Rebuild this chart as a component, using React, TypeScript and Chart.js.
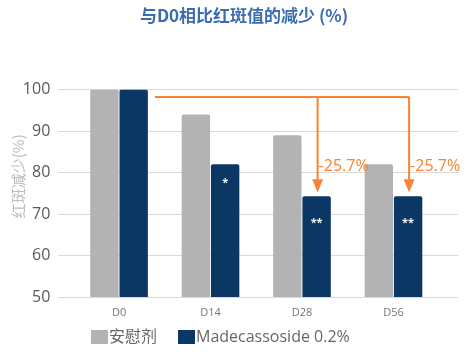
import React, { useEffect, useRef } from "react";
import { Chart, registerables } from "chart.js";

Chart.register(...registerables);

const categories = ["D0", "D14", "D28", "D56"];
const placeboValues = [100, 94, 89, 82];
const madecassosideValues = [100, 82, 74.3, 74.3];
const starLabels = ["", "*", "**", "**"];
const reductionLabels = ["", "", "-25.7%", "-25.7%"];
const seriesNames = ["安慰剂", "Madecassoside 0.2%"];
const yTicks = [50, 60, 70, 80, 90, 100];
const chartTitle = "与D0相比红斑值的减少 (%)";
const yAxisTitle = "红斑减少(%)";

const GRAY = "#b3b3b3";
const NAVY = "#0b3764";
const ORANGE = "#f98330";
const FONT = "'Open Sans', 'Noto Sans CJK SC', sans-serif";
const CJK = "'Noto Sans CJK SC', 'Open Sans', sans-serif";

const overlay = {
  id: "overlay",
  afterDatasetsDraw(chart: any) {
    const ctx = chart.ctx;
    const y = chart.scales.y;
    const meta1 = chart.getDatasetMeta(1);
    ctx.save();
    // stars
    ctx.fillStyle = "#eef4fb";
    ctx.font = `bold 11px ${FONT}`;
    ctx.textAlign = "center";
    ctx.textBaseline = "middle";
    starLabels.forEach((s, i) => {
      if (!s) return;
      const bar = meta1.data[i];
      const off = s.length > 1 ? 27 : 19;
      ctx.fillText(s, bar.x, bar.y + off);
    });
    // orange arrows
    const start = meta1.data[0];
    const lineY = y.getPixelForValue(98.2);
    const xs: number[] = [];
    reductionLabels.forEach((l, i) => {
      if (l) xs.push(meta1.data[i].x + 1);
    });
    ctx.strokeStyle = ORANGE;
    ctx.fillStyle = ORANGE;
    ctx.lineWidth = 2;
    ctx.beginPath();
    ctx.moveTo(start.x + start.width / 2 + 7, lineY);
    ctx.lineTo(Math.max(...xs), lineY);
    ctx.stroke();
    reductionLabels.forEach((l, i) => {
      if (!l) return;
      const bar = meta1.data[i];
      const x = bar.x + 1;
      const tip = bar.y - 4;
      ctx.beginPath();
      ctx.moveTo(x, lineY);
      ctx.lineTo(x, tip - 12);
      ctx.stroke();
      ctx.beginPath();
      ctx.moveTo(x - 5.5, tip - 13);
      ctx.lineTo(x + 5.5, tip - 13);
      ctx.lineTo(x, tip);
      ctx.closePath();
      ctx.fill();
      ctx.font = `16px ${FONT}`;
      ctx.textAlign = "left";
      ctx.textBaseline = "middle";
      ctx.fillText(l, x + 1, y.getPixelForValue(81.4));
    });
    ctx.restore();
  },
  afterDraw(chart: any) {
    const ctx = chart.ctx;
    const area = chart.chartArea;
    ctx.save();
    // title
    ctx.fillStyle = "#3b6bb3";
    ctx.font = `bold 17px ${CJK}`;
    ctx.textAlign = "center";
    ctx.textBaseline = "middle";
    ctx.fillText(chartTitle, 244, 16);
    // y axis title
    ctx.save();
    ctx.translate(18, (area.top + area.bottom) / 2 - 17);
    ctx.rotate(-Math.PI / 2);
    ctx.fillStyle = "#bdbdbd";
    ctx.font = `15px ${CJK}`;
    ctx.fillText(yAxisTitle, 0, 0);
    ctx.restore();
    // legend
    const colors = [GRAY, NAVY];
    let lx = 91;
    const ly = 337;
    ctx.font = `16px ${FONT}`;
    ctx.textAlign = "left";
    ctx.textBaseline = "middle";
    seriesNames.forEach((n, i) => {
      ctx.fillStyle = colors[i];
      ctx.fillRect(lx, ly - 7, 17, 14);
      ctx.fillStyle = "#666666";
      ctx.fillText(n, lx + 18, ly);
      lx += 18 + ctx.measureText(n).width + 21;
    });
    ctx.restore();
  },
};

export default function App() {
  const ref = useRef<HTMLCanvasElement>(null);
  useEffect(() => {
    if (!ref.current) return;
    const chart = new Chart(ref.current, {
      type: "bar",
      data: {
        labels: categories,
        datasets: [
          {
            label: seriesNames[0],
            data: placeboValues,
            backgroundColor: GRAY,
            borderRadius: 2,
            borderSkipped: "bottom",
            categoryPercentage: 0.64,
            barPercentage: 0.97,
          },
          {
            label: seriesNames[1],
            data: madecassosideValues,
            backgroundColor: NAVY,
            borderRadius: 2,
            borderSkipped: "bottom",
            categoryPercentage: 0.64,
            barPercentage: 0.97,
          },
        ],
      },
      options: {
        animation: false,
        responsive: false,
        maintainAspectRatio: false,
        layout: { padding: { top: 89.5, bottom: 0, left: 0, right: 0 } },
        plugins: { legend: { display: false }, title: { display: false }, tooltip: { enabled: false } },
        scales: {
          x: {
            grid: { display: false },
            border: { display: false },
            ticks: { color: "#777777", font: { size: 11, family: FONT }, padding: 1 },
            afterFit: (s: any) => {
              s.height = 61;
            },
          },
          y: {
            min: 50,
            max: 100,
            afterBuildTicks: (s: any) => {
              s.ticks = yTicks.map((v) => ({ value: v }));
            },
            grid: { color: "#d9d9d9", lineWidth: 1, tickLength: 15, tickColor: "#d9d9d9" },
            border: { display: false },
            ticks: { color: "#595959", font: { size: 16, family: FONT }, padding: 8 },
            afterFit: (s: any) => {
              s.width = 73.3;
            },
          },
          y2: {
            position: "right",
            min: 50,
            max: 100,
            afterBuildTicks: (s: any) => {
              s.ticks = yTicks.map((v) => ({ value: v }));
            },
            grid: { drawOnChartArea: false, tickLength: 19, tickColor: "#d9d9d9" },
            border: { display: false },
            ticks: { display: false },
            afterFit: (s: any) => {
              s.width = 30.8;
            },
          },
        },
      },
      plugins: [overlay],
    });
    return () => chart.destroy();
  }, []);
  return (
    <div style={{ position: "fixed", left: 0, top: 0, width: 470, height: 358, background: "#fff" }}>
      <canvas ref={ref} width={470} height={358} style={{ width: 470, height: 358 }} />
    </div>
  );
}
